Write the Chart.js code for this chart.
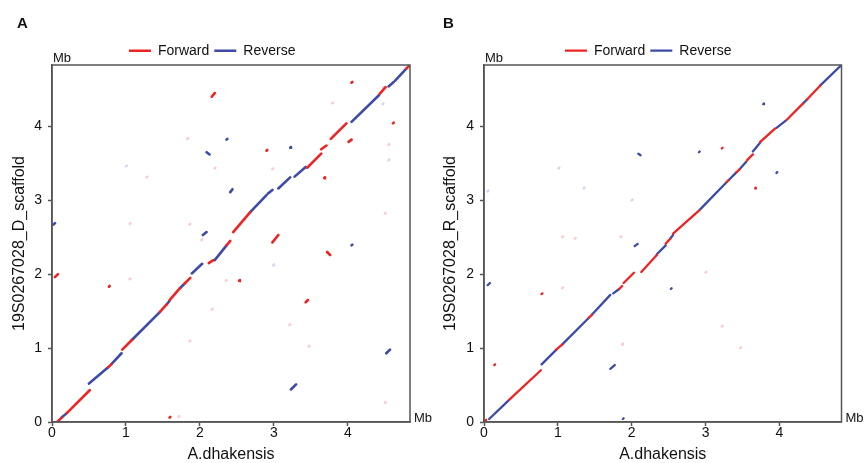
<!DOCTYPE html>
<html><head><meta charset="utf-8">
<script src="https://cdn.jsdelivr.net/npm/chart.js@4.4.1/dist/chart.umd.min.js"></script>
<style>html,body{margin:0;padding:0;background:#fff;overflow:hidden}
#a{position:absolute;left:0;top:0}#b{position:absolute;left:432px;top:0}</style>
</head><body>
<canvas id="a" width="432" height="463"></canvas>
<canvas id="b" width="433" height="463"></canvas>
<script>
// ---------- data (Mb) ----------
const seriesNames = ['Forward', 'Reverse'];
const tickVals = [0, 1, 2, 3, 4];
const xMax = 4.84, yMax = 4.83;
const xTitle = 'A.dhakensis';
const yTitleA = '19S0267028_D_scaffold';
const yTitleB = '19S0267028_R_scaffold';

// segments: [x1, y1, x2, y2]
const forwardA = [
  [0.07,0.00,0.13,0.06],[0.20,0.12,0.51,0.43],[0.76,0.74,0.80,0.78],[0.95,0.98,1.08,1.11],
  [1.46,1.49,1.55,1.59],[1.59,1.65,1.73,1.81],[1.79,1.87,1.87,1.95],[2.12,2.15,2.18,2.19],
  [2.36,2.39,2.41,2.45],[2.45,2.57,2.68,2.84],[3.45,3.44,3.64,3.63],[3.64,3.69,3.71,3.74],
  [3.77,3.83,3.98,4.04],[4.43,4.44,4.51,4.53],[4.79,4.78,4.84,4.83],
  [2.16,4.40,2.20,4.45],[4.05,4.59,4.06,4.60],[2.90,3.67,2.91,3.68],[4.01,3.79,4.05,3.82],
  [4.61,4.04,4.62,4.05],[3.68,3.30,3.69,3.31],[0.04,1.96,0.08,2.00],[0.77,1.83,0.78,1.84],
  [2.98,2.43,3.06,2.53],[3.72,2.30,3.76,2.26],[2.53,1.91,2.54,1.92],[3.43,1.62,3.46,1.65],
  [1.59,0.06,1.60,0.07]
];
const reverseA = [
  [0.13,0.06,0.20,0.12],[0.50,0.52,0.76,0.74],[0.80,0.78,0.94,0.93],[1.08,1.11,1.46,1.49],
  [1.55,1.59,1.59,1.64],[1.73,1.81,1.79,1.87],[1.89,2.01,2.03,2.14],[2.20,2.19,2.36,2.39],
  [2.68,2.84,2.90,3.07],[2.92,3.09,2.98,3.14],[3.06,3.16,3.22,3.31],[3.28,3.32,3.43,3.45],
  [4.05,4.06,4.42,4.42],[4.55,4.54,4.62,4.60],[4.64,4.62,4.79,4.78],
  [2.36,3.82,2.37,3.83],[2.09,3.65,2.13,3.62],[3.22,3.71,3.23,3.72],[2.41,3.11,2.44,3.15],
  [0.02,2.67,0.04,2.69],[2.04,2.53,2.09,2.57],[4.05,2.39,4.06,2.40],[3.23,0.44,3.30,0.51],
  [4.52,0.93,4.57,0.98]
];
// weak hits: [x, y]
const weakFwdA = [[1.05,2.68],[1.86,2.67],[1.28,3.31],[1.83,3.83],[2.20,3.43],[1.05,1.93],[1.71,0.07],
  [1.86,1.09],[2.16,1.52],[2.35,1.91],[2.02,2.46],[3.21,1.31],[3.47,1.02],[4.50,0.26],[4.48,4.52],
  [3.79,4.31],[4.55,3.75],[2.98,3.42],[4.50,2.82]];
const weakRevA = [[1.00,3.46],[2.99,2.12],[4.47,4.30],[4.55,3.54]];

const forwardB = [
  [0.00,0.00,0.03,0.03],[0.34,0.30,0.77,0.70],[0.98,0.98,1.06,1.05],[1.42,1.41,1.46,1.45],
  [1.83,1.80,1.87,1.84],[1.89,1.88,2.03,2.02],[2.13,2.03,2.34,2.26],[2.46,2.41,2.52,2.48],
  [2.56,2.55,2.91,2.86],[3.29,3.25,3.31,3.27],[3.42,3.38,3.46,3.42],[3.56,3.54,3.64,3.62],
  [3.74,3.79,3.94,3.97],[4.10,4.09,4.32,4.31],[4.37,4.36,4.55,4.55],
  [3.22,3.70,3.23,3.71],[3.67,3.16,3.68,3.17],[0.14,0.77,0.15,0.78],[0.78,1.73,0.79,1.74]
];
const reverseB = [
  [0.07,0.04,0.33,0.29],[0.78,0.78,0.98,0.98],[1.06,1.05,1.42,1.41],[1.46,1.45,1.71,1.72],
  [1.75,1.74,1.83,1.80],[2.34,2.27,2.46,2.39],[2.52,2.48,2.56,2.53],[2.92,2.87,3.29,3.25],
  [3.31,3.27,3.42,3.38],[3.46,3.42,3.55,3.52],[3.64,3.66,3.74,3.78],[3.96,3.98,4.09,4.08],
  [4.32,4.31,4.37,4.36],[4.55,4.55,4.84,4.83],
  [3.78,4.30,3.79,4.31],[2.09,3.63,2.12,3.61],[2.91,3.65,2.92,3.66],[3.96,3.37,3.97,3.38],
  [0.05,1.85,0.08,1.88],[1.71,0.72,1.77,0.77],[2.04,2.38,2.08,2.41],[2.53,1.80,2.54,1.81],
  [1.88,0.04,1.89,0.05]
];
const weakFwdB = [[1.85,2.50],[1.87,1.05],[1.06,2.50],[1.06,1.81],[3.00,2.02],[3.22,1.29],[3.47,1.00],[1.23,2.48]];
const weakRevB = [[1.01,3.43],[1.35,3.16],[0.05,3.12],[2.00,3.00]];

// ---------- helpers ----------
const RED = '#ee2424', BLUE = '#3d4ba8';
const FONT = "'Liberation Sans', Arial, Helvetica, sans-serif";
Chart.defaults.font.family = FONT;
Chart.defaults.color = '#111';

function segPoints(segs) {
  const out = [];
  for (const s of segs) { out.push({x: s[0], y: s[1]}, {x: s[2], y: s[3]}, {x: s[2], y: null}); }
  return out;
}
function dotPoints(dots) {
  const out = [];
  for (const d of dots) { out.push({x: d[0], y: d[1]}, {x: d[0] + 0.01, y: d[1] + 0.01}, {x: d[0], y: null}); }
  return out;
}
function ds(label, data, color, w, legend) {
  return { label, data, borderColor: color, backgroundColor: color, borderWidth: w,
    borderCapStyle: 'round', pointRadius: 0, pointHoverRadius: 0, tension: 0, spanGaps: false,
    showLine: true, fill: false, inLegend: legend };
}

const deco = {
  id: 'deco',
  afterDraw(chart, args, o) {
    const ctx = chart.ctx, ca = chart.chartArea;
    ctx.save();
    ctx.strokeStyle = '#555'; ctx.lineWidth = 1.5;
    ctx.strokeRect(ca.left, ca.top, ca.right - ca.left, ca.bottom - ca.top);
    ctx.fillStyle = '#111';
    ctx.textBaseline = 'alphabetic'; ctx.textAlign = 'left';
    ctx.font = 'bold 15px ' + FONT;
    ctx.fillText(o.letter, o.letterX, 28);
    ctx.font = '13px ' + FONT;
    ctx.fillText('Mb', ca.left + 1, ca.top - 3);
    ctx.fillText('Mb', ca.right + 4, ca.bottom);
    ctx.restore();
  }
};

function build(canvasId, p) {
  const cfg = {
    type: 'line',
    data: { datasets: [
      ds(seriesNames[0], segPoints(p.fwd), RED, p.lw, true),
      ds(seriesNames[1], segPoints(p.rev), BLUE, p.lw, true),
      ds('weak forward', dotPoints(p.wf), 'rgba(240,110,110,0.35)', 2.5, false),
      ds('weak reverse', dotPoints(p.wr), 'rgba(110,120,200,0.3)', 2.5, false)
    ]},
    options: {
      responsive: false, animation: false, events: [],
      layout: { padding: { left: p.L, right: p.R, top: 38.7, bottom: 0 } },
      plugins: {
        tooltip: { enabled: false },
        legend: {
          position: 'top', align: 'center',
          labels: {
            usePointStyle: true, pointStyle: 'line', pointStyleWidth: 22,
            padding: 5, color: '#111', font: { size: 14, family: FONT },
            filter: (item, data) => data.datasets[item.datasetIndex].inLegend
          }
        },
        deco: { letter: p.letter, letterX: p.letterX }
      },
      scales: {
        x: {
          type: 'linear', min: 0, max: xMax,
          afterBuildTicks: s => { s.ticks = tickVals.map(v => ({ value: v })); },
          afterFit: s => { s.height = 41; },
          border: { color: '#555', width: 1.5 },
          grid: { drawOnChartArea: false, drawTicks: true, tickLength: 4, tickColor: '#555', tickWidth: 1.5 },
          ticks: { padding: 0, color: '#111', font: { size: 14, lineHeight: 1 }, maxRotation: 0 },
          title: { display: true, text: xTitle, color: '#111', padding: 0, font: { size: 16, lineHeight: 1 } }
        },
        y: {
          type: 'linear', min: 0, max: yMax,
          afterBuildTicks: s => { s.ticks = tickVals.map(v => ({ value: v })); },
          afterFit: s => { s.width = p.yW; },
          border: { color: '#555', width: 1.5 },
          grid: { drawOnChartArea: false, drawTicks: true, tickLength: 4, tickColor: '#555', tickWidth: 1.5 },
          ticks: { padding: 6, color: '#111', font: { size: 14, lineHeight: 1 } },
          title: { display: true, text: p.yTitle, color: '#111', padding: { top: p.tPad, bottom: 0 }, font: { size: 16, lineHeight: 1 } }
        }
      }
    },
    plugins: [deco]
  };
  const chart = new Chart(document.getElementById(canvasId), cfg);
  const lg = chart.legend;
  const f = lg.fit;
  lg.fit = function () { f.call(this); this.height = 26.3; };
  chart.update('none');
  return chart;
}

build('a', { fwd: forwardA, rev: reverseA, wf: weakFwdA, wr: weakRevA, lw: 2.6,
  L: 14.4, R: 22, yW: 37.6, tPad: -2.4, yTitle: yTitleA, letter: 'A', letterX: 17 });
build('b', { fwd: forwardB, rev: reverseB, wf: weakFwdB, wr: weakRevB, lw: 2.3,
  L: 22.9, R: 23.5, yW: 29.1, tPad: -11.9, yTitle: yTitleB, letter: 'B', letterX: 11 });
</script>
</body></html>
